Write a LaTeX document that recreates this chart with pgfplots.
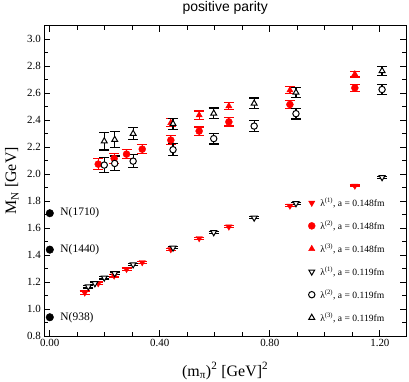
\documentclass[border=0pt]{standalone}
\usepackage{fontspec}
\setmainfont{Liberation Serif}
\newfontfamily\sansfont{Liberation Sans}
\usepackage{pgfplots}
\pgfplotsset{compat=1.18}
\pgfplotstableread{
x y e
0.127 1.121 0.012
0.176 1.190 0.010
0.234 1.247 0.010
0.279 1.296 0.008
0.336 1.346 0.008
0.440 1.442 0.008
0.543 1.524 0.007
0.651 1.610 0.007
0.873 1.765 0.008
1.109 1.913 0.006
}\redone
\pgfplotstableread{
x y e
0.176 2.074 0.040
0.234 2.116 0.035
0.279 2.148 0.035
0.336 2.185 0.035
0.440 2.252 0.035
0.543 2.319 0.030
0.651 2.387 0.030
0.873 2.516 0.030
1.109 2.639 0.025
}\redtwo
\pgfplotstableread{
x y e
0.440 2.380 0.030
0.543 2.437 0.030
0.651 2.504 0.025
0.873 2.622 0.025
1.109 2.741 0.022
}\redthree
\pgfplotstableread{
x y e
0.140 1.166 0.010
0.164 1.190 0.010
0.198 1.232 0.010
0.236 1.264 0.010
0.303 1.330 0.008
0.448 1.454 0.008
0.596 1.568 0.007
0.743 1.676 0.007
0.895 1.783 0.008
1.208 1.976 0.007
}\blkone
\pgfplotstableread{
x y e
0.198 2.067 0.055
0.236 2.079 0.055
0.303 2.096 0.050
0.448 2.181 0.045
0.596 2.263 0.040
0.743 2.356 0.040
0.895 2.448 0.040
1.208 2.627 0.035
}\blktwo
\pgfplotstableread{
x y e
0.198 2.244 0.065
0.236 2.255 0.060
0.303 2.300 0.045
0.448 2.373 0.040
0.596 2.450 0.040
0.743 2.524 0.040
0.895 2.605 0.035
1.208 2.765 0.035
}\blkthree
\pgfplotstableread{
x y
0.0 0.939
0.0 1.440
0.0 1.710
}\phys
\begin{document}
\begin{tikzpicture}
\begin{axis}[
  scale only axis, width=361.7bp, height=310.3bp,
  at={(0,0)}, anchor=south west,
  xmin=-0.02, xmax=1.295, ymin=0.8, ymax=3.1,
  xtick={0,0.4,0.8,1.2}, minor x tick num=3,
  ytick={0.8,1.0,1.2,1.4,1.6,1.8,2.0,2.2,2.4,2.6,2.8,3.0}, minor y tick num=1,
  tick align=inside,
  major tick length=6bp, minor tick length=4bp,
  every tick/.style={black, line width=0.8bp},
  axis line style={line width=1bp},
  /pgf/number format/assume math mode=true,
  xticklabel style={/pgf/number format/.cd, fixed, fixed zerofill, precision=2},
  yticklabel style={/pgf/number format/.cd, fixed, fixed zerofill, precision=1},
  tick label style={font=\fontsize{11}{13}\selectfont},
  xlabel={(m\textsubscript{π})\textsuperscript{2} [GeV]\textsuperscript{2}},
  ylabel={M\textsubscript{N} [GeV]},
  every axis x label/.style={at={(axis description cs:0.5,0)}, anchor=base, yshift=-40bp, font=\fontsize{16}{18}\selectfont},
  every axis y label/.style={at={(axis description cs:-0.0899,0.5)}, rotate=90, anchor=center, font=\fontsize{16}{18}\selectfont},
  title={positive parity},
  every axis title/.style={at={(axis description cs:0.5,1)}, anchor=base, yshift=13.7bp, font=\sansfont\fontsize{14}{16}\selectfont},
  legend style={draw=none, fill=none, at={(rel axis cs:0.955,0.03)}, anchor=south east,
    font=\fontsize{9.6}{11}\selectfont, row sep=9.2bp, column sep=3bp},
  legend cell align=left,
  error bars/y dir=both, error bars/y explicit,
  error bars/error bar style={line width=1.2bp},
  error bars/error mark options={line width=1.2bp, mark size=5bp, rotate=90},
]
\addplot[only marks, red, mark=triangle*, mark size=3.6bp, mark options={rotate=180, fill=red}]
  table[x=x, y=y, y error=e] {\redone};
\addlegendentry{λ\textsuperscript{(1)}, a = 0.148fm}
\addplot[only marks, red, mark=*, mark size=3.5bp, mark options={fill=red}]
  table[x=x, y=y, y error=e] {\redtwo};
\addlegendentry{λ\textsuperscript{(2)}, a = 0.148fm}
\addplot[only marks, red, mark=triangle*, mark size=3.6bp, mark options={fill=red}]
  table[x=x, y=y, y error=e] {\redthree};
\addlegendentry{λ\textsuperscript{(3)}, a = 0.148fm}
\addplot[only marks, black, mark=triangle*, mark size=3.4bp, mark options={rotate=180, fill=white, line width=1bp}]
  table[x=x, y=y, y error=e] {\blkone};
\addlegendentry{λ\textsuperscript{(1)}, a = 0.119fm}
\addplot[only marks, black, mark=*, mark size=3.2bp, mark options={fill=white, line width=1bp}]
  table[x=x, y=y, y error=e] {\blktwo};
\addlegendentry{λ\textsuperscript{(2)}, a = 0.119fm}
\addplot[only marks, black, mark=triangle*, mark size=3.4bp, mark options={fill=white, line width=1bp}]
  table[x=x, y=y, y error=e] {\blkthree};
\addlegendentry{λ\textsuperscript{(3)}, a = 0.119fm}
\addplot[only marks, black, mark=*, mark size=3.8bp, forget plot] table[x=x, y=y] {\phys};
\node[anchor=west, font=\fontsize{11.5}{13}\selectfont] at (axis cs:0.026,0.939) {N(938)};
\node[anchor=west, font=\fontsize{11.5}{13}\selectfont] at (axis cs:0.026,1.440) {N(1440)};
\node[anchor=west, font=\fontsize{11.5}{13}\selectfont] at (axis cs:0.026,1.710) {N(1710)};
\end{axis}
\pgfresetboundingbox
\path[use as bounding box] (-44.3bp,-46bp) rectangle (364.7bp,336bp);
\end{tikzpicture}
\end{document}
